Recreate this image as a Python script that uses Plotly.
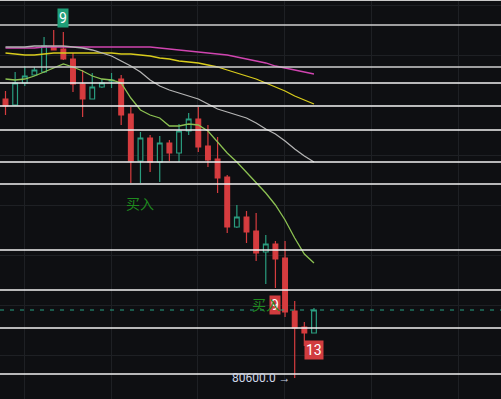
import plotly.graph_objects as go

# ---- data ----
idx = list(range(33))
opens = [83390, 83330, 83550, 83630, 83660, 83910, 83890, 83790, 83540, 83390,
         83510, 83570, 83590, 83240, 82770, 83000, 82760, 82950, 82850, 83070,
         83190, 82920, 82790, 82610, 82110, 82210, 82070, 81860, 81940, 81800,
         81270, 81110, 81050]
highs = [83470, 83660, 83720, 83710, 84010, 84080, 84060, 83850, 83680, 83650,
         83590, 83650, 83630, 83310, 83060, 83030, 83020, 82980, 83140, 83250,
         83310, 83130, 83010, 82630, 82330, 82270, 82250, 82030, 81970, 81970,
         81370, 81160, 81300]
lows = [83230, 83320, 83520, 83620, 83650, 83880, 83780, 83460, 83210, 83390,
        83500, 83500, 83130, 82550, 82550, 82660, 82560, 82770, 82760, 83030,
        82860, 82710, 82450, 82050, 82100, 81950, 81770, 81540, 81500, 81210,
        80600, 80920, 81050]
closes = [83320, 83550, 83620, 83680, 83920, 83880, 83790, 83540, 83390, 83510,
          83550, 83580, 83230, 82770, 83000, 82760, 82950, 82850, 83070, 83190,
          82910, 82780, 82600, 82110, 82210, 82060, 81850, 81940, 81790, 81260,
          81100, 81050, 81280]

ma_fast = [83590, 83580, 83590, 83620, 83660, 83700, 83740, 83710, 83670, 83620,
           83590, 83580, 83550, 83400, 83280, 83230, 83200, 83120, 83120, 83140,
           83130, 83070, 82960, 82850, 82760, 82660, 82560, 82450, 82330, 82180,
           82000, 81840, 81750]
ma_mid = [83910, 83910, 83910, 83920, 83920, 83920, 83920, 83910, 83900, 83880,
          83850, 83820, 83770, 83720, 83660, 83580, 83520, 83480, 83450, 83420,
          83390, 83340, 83290, 83260, 83230, 83200, 83150, 83090, 83040, 82970,
          82890, 82820, 82760]
ma_long = [83850, 83840, 83830, 83830, 83840, 83850, 83850, 83850, 83850, 83850,
           83850, 83850, 83840, 83840, 83830, 83820, 83800, 83790, 83770, 83760,
           83750, 83730, 83710, 83680, 83650, 83620, 83590, 83550, 83510, 83470,
           83420, 83380, 83340]
ma_slow = [83900, 83900, 83900, 83900, 83910, 83910, 83910, 83910, 83910, 83910,
           83910, 83910, 83910, 83910, 83910, 83910, 83900, 83890, 83880, 83870,
           83860, 83850, 83840, 83830, 83810, 83790, 83770, 83750, 83720, 83700,
           83680, 83660, 83640]

level_prices = [84130, 83710, 83550, 83320, 83080, 82760, 82540, 81880, 81480, 81100, 80640]
level_colors = ["#cfcfcf", "#cfcfcf"] + ["#f2f2f2"] * 9

buy_idx = [14, 27]
buy_label = "买入"
td_up = [(6, "9")]
td_down = [(28, "9"), (32, "13")]
low_label_idx = 30

BG = "#0e0f12"
GRID = "#1e2024"
UP = "#2a9d7f"
DOWN = "#d63c3f"

fig = go.Figure()

fig.add_trace(go.Scatter(x=idx, y=ma_slow, mode="lines",
                         line=dict(color="#d045b0", width=1.3), hoverinfo="skip"))
fig.add_trace(go.Scatter(x=idx, y=ma_long, mode="lines",
                         line=dict(color="#d9cc1c", width=1.3), hoverinfo="skip"))
fig.add_trace(go.Scatter(x=idx, y=ma_mid, mode="lines",
                         line=dict(color="#b4b4b4", width=1.3), hoverinfo="skip"))

fig.add_trace(go.Candlestick(
    x=idx, open=opens, high=highs, low=lows, close=closes,
    increasing=dict(line=dict(color=UP, width=1.2), fillcolor=BG),
    decreasing=dict(line=dict(color=DOWN, width=1.2), fillcolor=DOWN),
    whiskerwidth=0,
))

fig.add_trace(go.Scatter(x=idx, y=ma_fast, mode="lines",
                         line=dict(color="#8cc152", width=1.3), hoverinfo="skip"))

shapes = []
for p, c in zip(level_prices, level_colors):
    shapes.append(dict(type="line", xref="paper", x0=0, x1=1, yref="y", y0=p, y1=p,
                       line=dict(color=c, width=1.6), layer="above"))
shapes.append(dict(type="line", xref="paper", x0=0, x1=1, yref="paper", y0=1, y1=1,
                   line=dict(color="#c8c8c8", width=2)))
shapes.append(dict(type="line", xref="paper", x0=0, x1=1, yref="y",
                   y0=closes[-1], y1=closes[-1],
                   line=dict(color="#26a383", width=1, dash="4px,6px")))

annotations = []
for i, t in td_up:
    annotations.append(dict(x=i, y=highs[i], xref="x", yref="y", text=t,
                            showarrow=False, yanchor="bottom", yshift=4,
                            bgcolor="#1f9e78", borderpad=1,
                            font=dict(family="Roboto", size=14, color="#ffffff")))
for i, t in td_down:
    annotations.append(dict(x=i, y=lows[i], xref="x", yref="y", text=t,
                            showarrow=False, yanchor="top", yshift=-7,
                            bgcolor="#d13c3f", borderpad=1,
                            font=dict(family="Roboto", size=14, color="#ffffff")))
for i in buy_idx:
    annotations.append(dict(x=i, y=lows[i], xref="x", yref="y", text=buy_label,
                            showarrow=False, yanchor="middle", yshift=-20,
                            font=dict(family="Noto Sans CJK SC", size=14, color="#1f8a1f")))
annotations.append(dict(x=low_label_idx, y=lows[low_label_idx], xref="x", yref="y",
                        text=f"{lows[low_label_idx]:.1f} →", showarrow=False,
                        xanchor="right", yanchor="middle", xshift=-2,
                        font=dict(family="Roboto", size=12, color="#cdd5e6")))

fig.update_layout(
    width=501, height=399,
    margin=dict(l=0, r=0, t=0, b=0),
    paper_bgcolor=BG, plot_bgcolor=BG,
    showlegend=False,
    shapes=shapes,
    annotations=annotations,
    xaxis=dict(range=[-0.5705, 51.40], showgrid=True, gridcolor=GRID, gridwidth=1,
               tick0=1.95, dtick=9, showticklabels=False, zeroline=False,
               rangeslider=dict(visible=False), fixedrange=True),
    yaxis=dict(range=[80390, 84380], showgrid=True, gridcolor=GRID, gridwidth=1,
               tick0=80830, dtick=500, showticklabels=False, zeroline=False,
               fixedrange=True),
)

fig.write_html("out.html", config={"displayModeBar": False},
               post_script="document.body.style.margin='0';document.body.style.background='#0e0f12';")
